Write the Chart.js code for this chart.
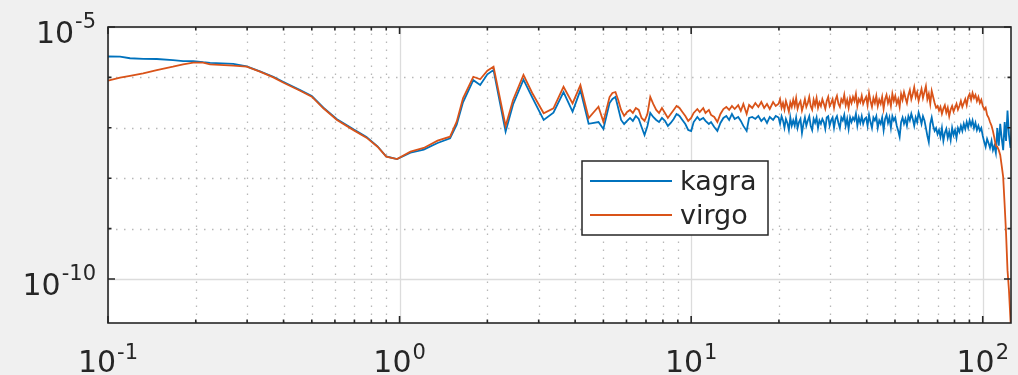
<!DOCTYPE html>
<html>
<head>
<meta charset="utf-8">
<script src="https://cdn.jsdelivr.net/npm/chart.js@4"></script>
<style>
  html, body { margin: 0; padding: 0; background: #f0f0f0; }
  #wrap { width: 1018px; height: 375px; }
</style>
</head>
<body>
<div id="wrap"><canvas id="psd"></canvas></div>
<script>
// frequency axis (Hz)
var freq = [0.100,0.110,0.119,0.132,0.147,0.167,0.181,0.196,0.212,0.224,0.269,0.299,0.332,0.369,0.400,0.456,0.500,0.548,0.610,0.695,0.770,0.840,0.900,0.980,
  1.09,1.21,1.35,1.49,1.57,1.65,1.79,1.89,2.00,2.10,2.31,2.45,2.66,2.85,3.12,3.37,3.65,3.92,4.17,4.45,4.81,5.00,
  5.25,5.37,5.50,5.62,5.75,5.89,6.03,6.17,6.31,6.46,6.61,6.76,6.92,7.08,7.24,7.41,7.59,7.76,7.94,8.13,8.32,8.51,8.71,8.91,9.12,9.33,9.55,9.77,
  10.0,10.2,10.5,10.7,11.0,11.2,11.5,11.7,12.0,12.3,12.6,12.9,13.2,13.5,13.8,14.1,14.5,14.8,15.1,15.5,15.8,16.2,16.6,17.0,17.4,17.8,18.2,18.6,19.1,19.5,
  19.95,20.18,20.42,20.65,20.89,21.13,21.38,21.63,21.88,22.13,
  22.39,22.65,22.91,23.17,23.44,23.71,23.99,24.27,24.55,24.83,
  25.12,25.41,25.70,26.00,26.30,26.61,26.92,27.23,27.54,27.86,
  28.18,28.51,28.84,29.17,29.51,29.85,30.20,30.55,30.90,31.26,
  31.62,31.99,32.36,32.73,33.11,33.50,33.88,34.28,34.67,35.08,
  35.48,35.89,36.31,36.73,37.15,37.58,38.02,38.46,38.90,39.36,
  39.81,40.27,40.74,41.21,41.69,42.17,42.66,43.15,43.65,44.16,
  44.67,45.19,45.71,46.24,46.77,47.32,47.86,48.42,48.98,49.55,
  50.12,50.70,51.29,51.88,52.48,53.09,53.70,54.33,54.95,55.59,
  56.23,56.89,57.54,58.21,58.88,59.57,60.26,60.95,61.66,62.37,
  63.10,63.83,64.57,65.31,66.07,66.83,67.61,68.39,69.18,69.98,
  70.79,71.61,72.44,73.28,74.13,74.99,75.86,76.74,77.62,78.52,
  79.43,80.35,81.28,82.22,83.18,84.14,85.11,86.10,87.10,88.10,
  89.13,90.16,91.20,92.26,93.33,94.41,95.50,96.61,97.72,98.86,
  100.0,101.2,102.3,103.5,104.7,105.9,107.2,108.4,109.6,110.9,
  112.2,113.5,114.8,116.1,117.5,118.9,120.2,121.6,123.0,124.5,125.9];

var kagra = [2.6e-6,2.58e-6,2.4e-6,2.33e-6,2.32e-6,2.2e-6,2.11e-6,2.1e-6,2.0e-6,1.95e-6,1.85e-6,1.65e-6,1.32e-6,1.03e-6,8.1e-7,5.6e-7,4.3e-7,2.5e-7,1.48e-7,9.3e-8,6.6e-8,4.3e-8,2.7e-8,2.4e-8,
  3.2e-8,3.7e-8,5.0e-8,6.2e-8,1.15e-7,3.2e-7,8.8e-7,7.06e-7,1.15e-6,1.40e-6,8.4e-8,2.9e-7,9.0e-7,4.0e-7,1.43e-7,2.0e-7,5.1e-7,2.1e-7,5.6e-7,1.2e-7,1.3e-7,9.5e-8,
  3.10e-7,3.73e-7,4.08e-7,2.47e-7,1.43e-7,1.19e-7,1.37e-7,1.57e-7,1.37e-7,1.72e-7,
  1.50e-7,1.04e-7,7.21e-8,1.09e-7,1.97e-7,1.64e-7,1.43e-7,1.30e-7,1.57e-7,1.37e-7,
  1.09e-7,1.25e-7,1.50e-7,1.88e-7,1.72e-7,1.43e-7,1.19e-7,9.05e-8,8.65e-8,1.30e-7,
  1.64e-7,1.43e-7,1.57e-7,1.37e-7,1.19e-7,1.30e-7,1.04e-7,8.65e-8,1.25e-7,1.57e-7,
  1.72e-7,1.43e-7,1.88e-7,1.50e-7,1.64e-7,1.37e-7,1.09e-7,8.65e-8,1.57e-7,1.64e-7,
  1.50e-7,1.72e-7,1.37e-7,1.57e-7,1.25e-7,1.64e-7,1.43e-7,1.72e-7,
  1.6e-7,1.2e-7,1.7e-7,1.4e-7,1.0e-7,1.5e-7,1.25e-7,9.0e-8,1.6e-7,1.1e-7,
  1.4e-7,1.1e-7,1.6e-7,9.9e-8,1.3e-7,1.5e-7,7.9e-8,1.2e-7,1.6e-7,1.1e-7,
  1.4e-7,1.7e-7,1.1e-7,9.0e-8,1.5e-7,1.25e-7,1.6e-7,9.9e-8,1.4e-7,1.2e-7,
  1.5e-7,1.3e-7,9.5e-8,1.6e-7,1.7e-7,1.1e-7,1.4e-7,1.6e-7,1.0e-7,1.5e-7,
  1.7e-7,1.25e-7,9.9e-8,1.6e-7,1.4e-7,1.8e-7,1.1e-7,1.5e-7,9.5e-8,1.6e-7,
  1.3e-7,1.6e-7,1.4e-7,1.9e-7,1.1e-7,1.6e-7,1.25e-7,1.7e-7,1.2e-7,1.5e-7,
  1.6e-7,1.1e-7,1.8e-7,1.3e-7,9.9e-8,1.6e-7,1.4e-7,1.7e-7,1.0e-7,1.4e-7,
  1.2e-7,1.6e-7,9.0e-8,1.5e-7,1.8e-7,1.25e-7,1.6e-7,1.0e-7,1.7e-7,1.4e-7,
  1.6e-7,1.1e-7,8.7e-8,6.6e-8,1.3e-7,1.6e-7,1.2e-7,1.5e-7,1.1e-7,1.7e-7,
  1.4e-7,1.9e-7,1.5e-7,1.1e-7,1.6e-7,1.3e-7,2.0e-7,1.6e-7,1.2e-7,1.7e-7,
  1.4e-7,1.0e-7,6.9e-8,5.2e-8,1.2e-7,1.6e-7,1.1e-7,8.7e-8,9.9e-8,7.5e-8,
  9.0e-8,6.6e-8,9.9e-8,5.5e-8,7.9e-8,9.5e-8,6.3e-8,8.3e-8,5.7e-8,1.0e-7,
  7.2e-8,9.0e-8,6.3e-8,9.9e-8,8.3e-8,1.1e-7,8.7e-8,1.2e-7,9.5e-8,1.3e-7,
  1.0e-7,1.4e-7,1.1e-7,1.4e-7,9.9e-8,1.25e-7,9.0e-8,1.1e-7,8.7e-8,9.9e-8,
  6.9e-8,5.2e-8,4.2e-8,6.0e-8,5.0e-8,4.0e-8,5.5e-8,3.6e-8,4.4e-8,3.2e-8,
  9.9e-8,4.4e-8,1.2e-7,6.3e-8,3.6e-8,1.3e-7,5.5e-8,2.2e-7,7.2e-8,4.0e-8,1.1e-7];

var virgo = [8.6e-7,9.86e-7,1.07e-6,1.2e-6,1.4e-6,1.63e-6,1.82e-6,1.96e-6,1.96e-6,1.82e-6,1.71e-6,1.63e-6,1.30e-6,1.0e-6,7.85e-7,5.45e-7,4.14e-7,2.44e-7,1.43e-7,9.0e-8,6.37e-8,4.22e-8,2.67e-8,2.4e-8,
  3.36e-8,3.98e-8,5.55e-8,6.66e-8,1.32e-7,3.85e-7,1.03e-6,9.2e-7,1.36e-6,1.63e-6,1.09e-7,3.56e-7,1.12e-6,4.9e-7,1.94e-7,2.44e-7,6.5e-7,3.06e-7,7.06e-7,1.56e-7,2.62e-7,1.32e-7,
  4.08e-7,4.90e-7,5.13e-7,3.56e-7,2.26e-7,1.72e-7,2.06e-7,2.26e-7,1.97e-7,2.47e-7,
  2.26e-7,1.57e-7,1.37e-7,1.88e-7,4.08e-7,2.97e-7,2.26e-7,1.97e-7,2.47e-7,1.97e-7,
  1.57e-7,1.88e-7,2.26e-7,2.71e-7,2.47e-7,2.06e-7,1.72e-7,1.37e-7,1.57e-7,1.97e-7,
  2.36e-7,2.06e-7,2.47e-7,1.97e-7,2.26e-7,1.80e-7,1.64e-7,1.30e-7,1.88e-7,2.36e-7,
  2.59e-7,2.26e-7,2.71e-7,2.36e-7,2.83e-7,2.16e-7,2.97e-7,1.88e-7,2.83e-7,2.47e-7,
  3.10e-7,2.59e-7,3.25e-7,2.47e-7,2.97e-7,2.36e-7,3.25e-7,2.71e-7,
  3.0e-7,3.7e-7,2.5e-7,3.1e-7,2.3e-7,3.4e-7,2.7e-7,2.1e-7,3.2e-7,2.6e-7,
  3.6e-7,2.7e-7,3.9e-7,2.4e-7,3.0e-7,3.4e-7,2.2e-7,2.8e-7,3.7e-7,2.6e-7,
  3.1e-7,4.1e-7,2.7e-7,2.3e-7,3.6e-7,2.8e-7,3.9e-7,2.5e-7,3.2e-7,2.7e-7,
  3.7e-7,3.0e-7,2.4e-7,3.4e-7,4.1e-7,2.7e-7,3.1e-7,3.7e-7,2.5e-7,3.6e-7,
  4.3e-7,3.0e-7,2.6e-7,3.7e-7,3.2e-7,4.5e-7,2.8e-7,3.6e-7,2.5e-7,3.9e-7,
  3.1e-7,4.1e-7,3.4e-7,4.7e-7,2.7e-7,3.7e-7,3.2e-7,4.3e-7,3.0e-7,3.6e-7,
  4.1e-7,2.8e-7,4.9e-7,3.4e-7,2.6e-7,3.9e-7,3.1e-7,4.3e-7,2.7e-7,3.6e-7,
  3.0e-7,4.1e-7,2.4e-7,3.7e-7,4.5e-7,3.1e-7,3.9e-7,2.7e-7,4.7e-7,3.4e-7,
  4.3e-7,3.0e-7,3.7e-7,2.6e-7,4.7e-7,3.6e-7,5.1e-7,3.9e-7,3.1e-7,4.5e-7,
  5.6e-7,3.7e-7,4.7e-7,6.4e-7,4.1e-7,5.1e-7,3.4e-7,4.5e-7,5.9e-7,3.9e-7,
  5.1e-7,6.7e-7,3.7e-7,4.7e-7,3.0e-7,5.4e-7,4.1e-7,3.1e-7,2.5e-7,2.7e-7,
  2.2e-7,2.6e-7,1.9e-7,2.4e-7,2.8e-7,2.0e-7,2.5e-7,1.7e-7,2.3e-7,2.7e-7,
  2.1e-7,2.5e-7,3.0e-7,2.3e-7,2.7e-7,3.4e-7,2.6e-7,3.1e-7,3.7e-7,2.8e-7,
  4.1e-7,4.7e-7,3.6e-7,4.9e-7,3.9e-7,4.5e-7,3.4e-7,4.1e-7,3.1e-7,3.6e-7,
  2.7e-7,2.3e-7,2.5e-7,1.8e-7,1.6e-7,1.3e-7,1.1e-7,8.6e-8,6.3e-8,4.4e-8,
  4.2e-8,3.6e-8,2.9e-8,1.8e-8,1.06e-8,2.9e-9,8.2e-10,1.5e-10,6.0e-11,1.5e-11,6.2e-12];

// ticks
var xMajor = [0.1, 1, 10, 100];
var xMajorExp = ['-1', '0', '1', '2'];
var xMinor = [0.2,0.3,0.4,0.5,0.6,0.7,0.8,0.9, 2,3,4,5,6,7,8,9, 20,30,40,50,60,70,80,90];
var yMajor = [1e-10, 1e-5];
var yMajorExp = ['-10', '-5'];
var yMinor = [1e-11, 1e-9, 1e-8, 1e-7, 1e-6];

var axisColor = '#262626';
var font = '"DejaVu Sans", sans-serif';

function pts(ys) {
  return freq.map(function (f, i) { return { x: f, y: ys[i] }; });
}

function powLabel(ctx, exp, x, baseY, supY, align) {
  ctx.font = '30px ' + font;
  var w1 = ctx.measureText('10').width;
  ctx.font = '21px ' + font;
  var w2 = ctx.measureText(exp).width;
  var total = w1 + 1 + w2;
  var x0 = align === 'right' ? x - total : x - total / 2;
  ctx.textAlign = 'left';
  ctx.textBaseline = 'alphabetic';
  ctx.fillStyle = axisColor;
  ctx.font = '30px ' + font;
  ctx.fillText('10', x0, baseY);
  ctx.font = '21px ' + font;
  ctx.fillText(exp, x0 + w1 + 1, supY);
}

var frame = {
  id: 'frame',
  beforeDatasetsDraw: function (chart) {
    var ctx = chart.ctx, a = chart.chartArea;
    var xs = chart.scales.x, ys = chart.scales.y;
    ctx.save();
    ctx.fillStyle = '#ffffff';
    ctx.fillRect(a.left, a.top, a.right - a.left, a.bottom - a.top);
    // minor grid, dotted
    ctx.strokeStyle = '#b8b8b8';
    ctx.lineWidth = 1.3;
    ctx.setLineDash([1.5, 6.5]);
    xMinor.forEach(function (v) {
      var px = Math.round(xs.getPixelForValue(v)) + 0.5;
      ctx.beginPath(); ctx.moveTo(px, a.bottom); ctx.lineTo(px, a.top); ctx.stroke();
    });
    yMinor.forEach(function (v) {
      var py = Math.round(ys.getPixelForValue(v)) + 0.5;
      if (py < a.top || py > a.bottom) return;
      ctx.beginPath(); ctx.moveTo(a.left, py); ctx.lineTo(a.right, py); ctx.stroke();
    });
    // major grid, solid
    ctx.setLineDash([]);
    ctx.strokeStyle = '#dcdcdc';
    ctx.lineWidth = 1.3;
    xMajor.forEach(function (v) {
      var px = Math.round(xs.getPixelForValue(v)) + 0.5;
      ctx.beginPath(); ctx.moveTo(px, a.bottom); ctx.lineTo(px, a.top); ctx.stroke();
    });
    yMajor.forEach(function (v) {
      var py = Math.round(ys.getPixelForValue(v)) + 0.5;
      ctx.beginPath(); ctx.moveTo(a.left, py); ctx.lineTo(a.right, py); ctx.stroke();
    });
    ctx.restore();
  },
  afterDatasetsDraw: function (chart) {
    var ctx = chart.ctx, a = chart.chartArea;
    var xs = chart.scales.x, ys = chart.scales.y;
    ctx.save();
    ctx.strokeStyle = axisColor;
    ctx.lineWidth = 1.6;
    ctx.strokeRect(a.left, a.top, a.right - a.left, a.bottom - a.top);
    function xTick(v, len) {
      var px = xs.getPixelForValue(v);
      ctx.beginPath();
      ctx.moveTo(px, a.bottom); ctx.lineTo(px, a.bottom - len);
      ctx.moveTo(px, a.top); ctx.lineTo(px, a.top + len);
      ctx.stroke();
    }
    function yTick(v, len) {
      var py = ys.getPixelForValue(v);
      if (py < a.top - 1 || py > a.bottom + 1) return;
      ctx.beginPath();
      ctx.moveTo(a.left, py); ctx.lineTo(a.left + len, py);
      ctx.moveTo(a.right, py); ctx.lineTo(a.right - len, py);
      ctx.stroke();
    }
    xMinor.forEach(function (v) { xTick(v, 3.5); });
    xMajor.forEach(function (v) { xTick(v, 7); });
    yMinor.forEach(function (v) { yTick(v, 3.5); });
    yMajor.forEach(function (v) { yTick(v, 7); });

    // tick labels
    xMajor.forEach(function (v, i) {
      powLabel(ctx, xMajorExp[i], xs.getPixelForValue(v), 372, 359, 'center');
    });
    yMajor.forEach(function (v, i) {
      var py = ys.getPixelForValue(v);
      powLabel(ctx, yMajorExp[i], 96, py + 16, py + 1, 'right');
    });

    // legend box
    ctx.fillStyle = '#ffffff';
    ctx.fillRect(582, 161, 186, 74);
    ctx.lineWidth = 1.5;
    ctx.strokeStyle = axisColor;
    ctx.strokeRect(582, 161, 186, 74);
    chart.data.datasets.forEach(function (ds, i) {
      var ly = 181 + i * 34;
      ctx.strokeStyle = ds.borderColor;
      ctx.lineWidth = 2;
      ctx.beginPath(); ctx.moveTo(590, ly); ctx.lineTo(672, ly); ctx.stroke();
      ctx.fillStyle = axisColor;
      ctx.font = '27px ' + font;
      ctx.textAlign = 'left';
      ctx.textBaseline = 'alphabetic';
      ctx.fillText(ds.label, 680, ly + 9);
    });
    ctx.restore();
  }
};

new Chart(document.getElementById('psd'), {
  type: 'line',
  data: {
    datasets: [
      { label: 'kagra', data: pts(kagra), borderColor: '#0072bd', backgroundColor: '#0072bd', borderWidth: 1.8, order: 1 },
      { label: 'virgo', data: pts(virgo), borderColor: '#d95319', backgroundColor: '#d95319', borderWidth: 1.8, order: 0 }
    ]
  },
  options: {
    animation: false,
    responsive: true,
    maintainAspectRatio: false,
    layout: { padding: { left: 108, top: 27, right: 7, bottom: 52 } },
    elements: { point: { radius: 0 }, line: { tension: 0 } },
    scales: {
      x: { type: 'logarithmic', min: 0.1, max: 125, display: false },
      y: { type: 'logarithmic', min: 1.34e-11, max: 1e-5, display: false }
    },
    plugins: { legend: { display: false }, tooltip: { enabled: false } }
  },
  plugins: [frame]
});
</script>
</body>
</html>
